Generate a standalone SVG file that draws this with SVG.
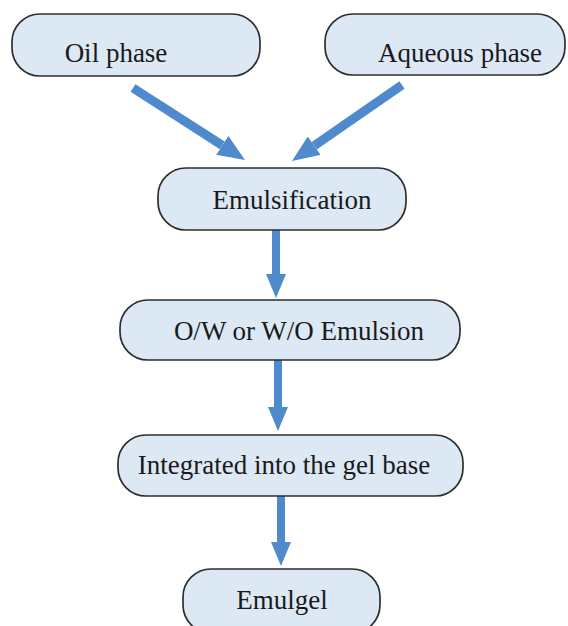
<svg xmlns="http://www.w3.org/2000/svg" width="568" height="626" viewBox="0 0 568 626">
<style>
.box{fill:#dde8f5;stroke:#2e2e2e;stroke-width:1.7}
.lbl{font-family:"Liberation Serif","Times New Roman",serif;font-size:27px;fill:#1a1a1a;text-anchor:middle}
.arr{stroke:#4f8bcc;stroke-width:8;fill:none;marker-end:url(#head)}
.diag{stroke-width:9}
</style>
<defs>
<marker id="head" viewBox="0 0 24 20" refX="0" refY="10" markerWidth="3" markerHeight="2.5" orient="auto" markerUnits="strokeWidth">
<path d="M0,0 L24,10 L0,20 z" fill="#4f8bcc"/>
</marker>
</defs>
<rect width="568" height="626" fill="#ffffff"/>
<g id="connectors">
<line class="arr diag" x1="133" y1="88" x2="222.3" y2="145.4"/>
<line class="arr diag" x1="402" y1="85" x2="314.2" y2="145.7"/>
<line class="arr" x1="276" y1="230" x2="276" y2="274"/>
<line class="arr" x1="278" y1="360" x2="278" y2="407"/>
<line class="arr" x1="281" y1="496" x2="281" y2="542"/>
</g>
<g id="oil">
<rect class="box" x="12" y="14" width="248" height="62" rx="28"/>
<text class="lbl" x="116" y="62">Oil phase</text>
</g>
<g id="aqueous">
<rect class="box" x="325" y="14" width="240" height="61" rx="28"/>
<text class="lbl" x="460" y="62">Aqueous phase</text>
</g>
<g id="emulsification">
<rect class="box" x="158" y="168" width="248" height="62" rx="28"/>
<text class="lbl" x="292" y="209">Emulsification</text>
</g>
<g id="emulsion">
<rect class="box" x="120" y="300" width="340" height="60" rx="28"/>
<text class="lbl" x="299" y="340">O/W or W/O Emulsion</text>
</g>
<g id="gelbase">
<rect class="box" x="118" y="435" width="345" height="61" rx="28"/>
<text class="lbl" x="284" y="474">Integrated into the gel base</text>
</g>
<g id="emulgel">
<rect class="box" x="183" y="569" width="197" height="64" rx="28"/>
<text class="lbl" x="282" y="609">Emulgel</text>
</g>
</svg>
